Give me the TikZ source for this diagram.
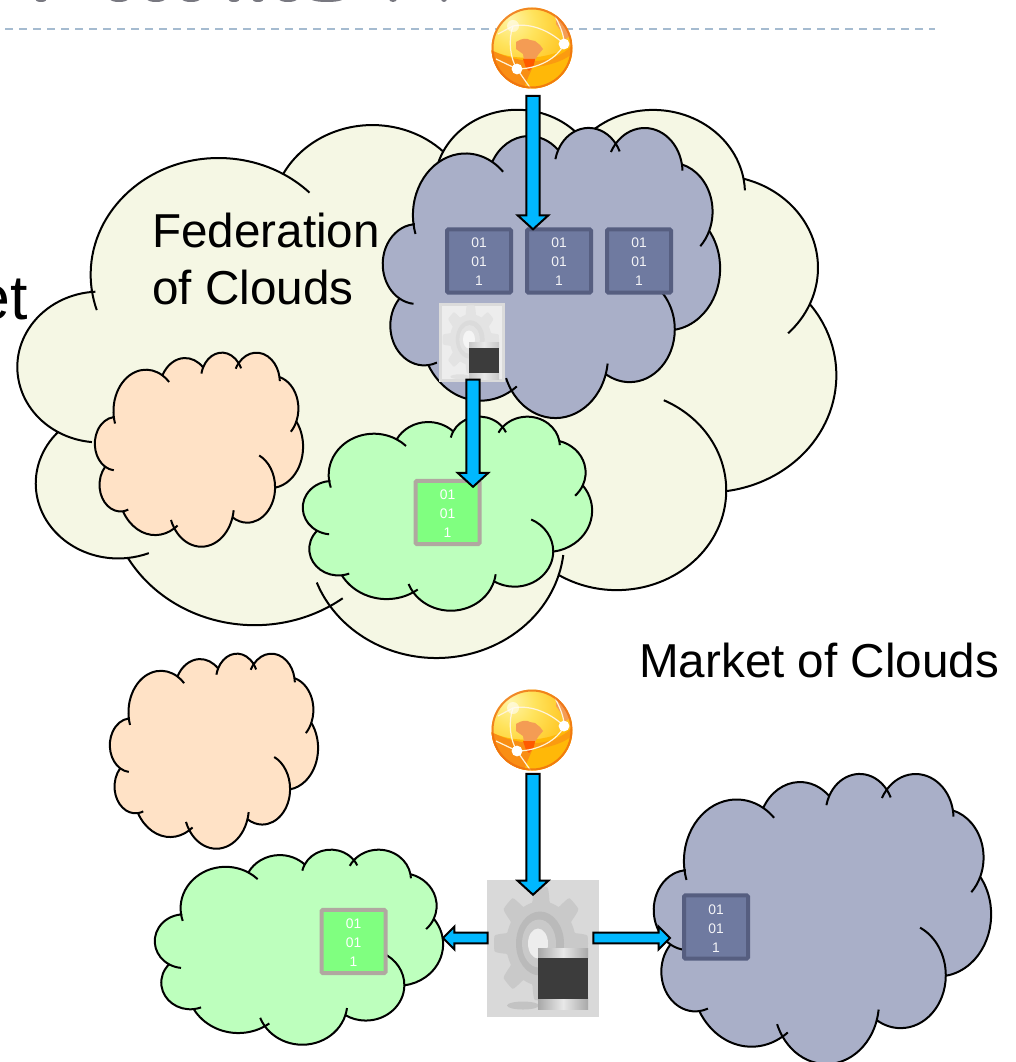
\documentclass[tikz,border=0pt]{standalone}
\usepackage{fontspec}
\setmainfont{Liberation Sans}
\usetikzlibrary{calc}
\definecolor{fedfill}{HTML}{F5F7E4}
\definecolor{bluefill}{HTML}{A9AFC8}
\definecolor{peachfill}{HTML}{FFE2C6}
\definecolor{greenfill}{HTML}{BDFFBD}
\definecolor{boxblue}{HTML}{6F7AA0}
\definecolor{boxblueline}{HTML}{565E80}
\definecolor{boxgreen}{HTML}{80FF80}
\definecolor{boxgreenline}{HTML}{B0A8A0}
\definecolor{arrowfill}{HTML}{00B8FF}
\definecolor{dashcol}{HTML}{A5BBD0}
\definecolor{globeband}{HTML}{F98E14}
\definecolor{globegold}{HTML}{FFB808}
\definecolor{globeland}{HTML}{F49C54}
\definecolor{globered}{HTML}{FF5A00}
\definecolor{globerim}{HTML}{EE6E10}
\definecolor{screendark}{HTML}{3C3C3C}
\pgfdeclareradialshading{globeshade}{\pgfpoint{-14bp}{18bp}}{%
  rgb(0bp)=(1,0.96,0.66);rgb(14bp)=(1,0.89,0.36);rgb(30bp)=(1,0.78,0.15);rgb(46bp)=(1,0.66,0.06);rgb(62bp)=(0.95,0.46,0.02);rgb(100bp)=(0.85,0.35,0.02)}
\newcommand\deflobe[5]{%
  \pgfmathsetmacro\tmpa{atan2(#2*sin(#4),#3*cos(#4))}%
  \pgfmathsetmacro\tmpb{atan2(#2*sin(#4+#5),#3*cos(#4+#5))}%
  \pgfmathsetmacro\tmpb{\tmpb<\tmpa ? \tmpb+360 : \tmpb}%
  \expandafter\xdef\csname LS#1\endcsname{\tmpa}%
  \expandafter\xdef\csname LE#1\endcsname{\tmpb}%
  \expandafter\xdef\csname LW#1\endcsname{#2}%
  \expandafter\xdef\csname LH#1\endcsname{#3}}
\deflobe{1}{6.753}{9.190}{-190.4875}{123.7805}
\deflobe{2}{5.333}{7.267}{-144.1024}{89.9452}
\deflobe{3}{4.365}{5.945}{-145.8079}{99.7230}
\deflobe{4}{4.857}{6.595}{-130.9861}{117.2417}
\deflobe{5}{5.333}{7.273}{-78.7089}{109.0269}
\deflobe{6}{6.775}{9.220}{-46.2673}{130.2690}
\deflobe{7}{5.785}{7.867}{0.6250}{114.0333}
\deflobe{8}{6.752}{9.215}{22.4516}{115.1726}
\deflobe{9}{7.720}{10.543}{66.2426}{75.7110}
\deflobe{10}{4.360}{5.918}{85.0579}{146.7356}
\deflobe{11}{4.345}{5.945}{113.1715}{152.5189}
\newcommand\LA[1]{arc[start angle=\csname LS#1\endcsname,end angle=\csname LE#1\endcsname,x radius=\csname LW#1\endcsname,y radius=\csname LH#1\endcsname] coordinate (J#1)}
\newcommand\HB[3]{\draw[cloudline] (J#2) arc[start angle=\csname LS#1\endcsname,delta angle=-#3,x radius=\csname LW#1\endcsname,y radius=\csname LH#1\endcsname];}
\newcommand\HF[2]{\draw[cloudline] (J#1) arc[start angle=\csname LE#1\endcsname,delta angle=#2,x radius=\csname LW#1\endcsname,y radius=\csname LH#1\endcsname];}
% fill, left, top, right, bottom in pixels
\newcommand\cloudshape[5]{%
  \pgfmathsetmacro\sx{(#4-#2)/43.2*0.75}%
  \pgfmathsetmacro\sy{(#5-#3)/43.2*0.75}%
  \begin{scope}[shift={(#2,#3)},x=\sx pt,y=-\sy pt]
    \filldraw[cloudline,fill=#1] (3.9,14.37) coordinate (J0) \LA{1} \LA{2} \LA{3} \LA{4} \LA{5} \LA{6} \LA{7} \LA{8} \LA{9} \LA{10} \LA{11} -- cycle;
    \HB{1}{0}{10}\HF{1}{15}\HB{3}{2}{14}\HF{3}{13}\HB{4}{3}{13}\HF{4}{8}\HF{5}{22}
    \HB{7}{6}{65}\HB{8}{7}{10}\HF{8}{13}\HB{9}{8}{6}\HB{10}{9}{15}\HB{11}{10}{25}\HF{11}{3}
  \end{scope}}
\newcommand\barrow[5]{%
  \coordinate (ba) at (#1);\coordinate (bb) at (#2);
  \coordinate (bh) at ($(bb)!#5!(ba)$);
  \draw[blockarrow] ($(ba)!#3!90:(bb)$) -- ($(bh)!#3!90:(bb)$) -- ($(bh)!#4!90:(bb)$) -- (bb)
    -- ($(bh)!#4!-90:(bb)$) -- ($(bh)!#3!-90:(bb)$) -- ($(ba)!#3!-90:(bb)$) -- cycle;}
\newcommand\globeicon[3]{%
  \node[globeball] (#1) at (#2,#3) {};
  \begin{scope}[shift={(#1.center)}]
    \clip (0,0) circle[radius=40.5];
    \fill[globegold] (-41,2) .. controls (-20,13) and (15,13) .. (41,-3) -- (41,41) -- (-41,41) -- cycle;
    \fill[globeband] (-41,2) .. controls (-25,10) and (-10,13) .. (3,13) .. controls (0,22) and (-5,30) .. (-8,41) -- (-41,41) -- cycle;
    \fill[globeband!70!globegold] (3,13) .. controls (15,13) and (30,8) .. (41,-3) -- (40,6) .. controls (30,14) and (15,18) .. (2,19) -- cycle;
    \fill[globeland] (-16,-6) .. controls (-10,-10) and (-5,-10) .. (-2,-8) -- (3,-7) -- (8,-3) -- (11,1) -- (6,7) -- (3,12) -- (-8,12) -- (-9,6) -- (-16,1) -- cycle;
    \fill[globered] (-9,11) -- (3,11) -- (2,17) -- (-3,23) -- (-6,20) -- cycle;
    \fill[globeland] (24,-33) .. controls (30,-28) and (36,-20) .. (38,-12) -- (32,-8) .. controls (31,-15) and (27,-20) .. (24,-24) -- cycle;
    \draw[white!85!globegold,line width=0.9pt] (-34,-14) -- (-19,-22) .. controls (-5,-25) and (15,-20) .. (32,-4);
    \draw[white!85!globegold,line width=0.9pt] (32,-4) .. controls (26,10) and (6,21) .. (-15,21);
    \draw[white!85!globegold,line width=0.9pt] (-15,21) .. controls (-22,10) and (-24,-8) .. (-19,-22);
    \draw[white!85!globegold,line width=0.9pt] (-15,21) -- (-1,41);
    \draw[white!85!globegold,line width=0.9pt] (-15,21) -- (-36,11);
    \draw[white!85!globegold,line width=0.9pt] (32,-4) .. controls (32,-14) and (28,-22) .. (23,-32);
    \fill[white,opacity=.55] (-19,-22) circle[radius=6];
    \fill[white] (32,-4) circle[radius=5.4] (-15,21) circle[radius=5.4];
    \draw[globerim,opacity=.8,line width=3pt] (0,0) circle[radius=40.5];
  \end{scope}}
% name, x, y, box style, gear colour, ring colour, hole colour, scale, band edge colour
\newcommand\gearicon[9]{%
  \node[#4] (#1) at (#2,#3) {};
  \begin{scope}[shift={(#1.center)},x=#8*0.75pt,y=-#8*0.75pt]
    \fill[#5] plot[domain=0:360,samples=241,variable=\t] ({-2+47*(.87+.13*min(1,max(-1,2.5*cos(8*\t))))*cos(\t)},{-5+57*(.87+.13*min(1,max(-1,2.5*cos(8*\t))))*sin(\t)}) -- cycle;
    \fill[#6] (-3,-5) ellipse[x radius=24,y radius=32];
    \fill[#5] (-4,-5) ellipse[x radius=17,y radius=24];
    \fill[#7] (-5,-5) ellipse[x radius=10,y radius=15];
    \fill[#6,opacity=.7] (-20,57) ellipse[x radius=16,y radius=4];
    \shade[left color=#9,right color=#9,middle color=black!9] (-5,0) rectangle (45,10);
    \shade[left color=#9,right color=#9,middle color=black!9] (-5,49) rectangle (45,61);
    \fill[screendark] (-5,9) rectangle (45,50);
  \end{scope}}
\newcommand\bits{\rule{0pt}{9pt}01\\01\\1}
\tikzset{
  cloudline/.style={draw=black,line width=1.5pt,line join=round},
  blockarrow/.style={draw=black,line width=1.5pt,fill=arrowfill,line join=miter},
  globeball/.style={circle,inner sep=0pt,minimum size=60.75pt,shading=globeshade},
  bitbox/.style={rectangle,rounded corners=1pt,inner sep=0pt,minimum width=48pt,minimum height=47.5pt,line width=3pt,align=center,text=white,font=\fontsize{10.4}{14.25}\selectfont},
  bluebit/.style={bitbox,draw=boxblueline,fill=boxblue,text=white!92!boxblue},
  greenbit/.style={bitbox,draw=boxgreenline,fill=boxgreen},
  bigtext/.style={font=\fontsize{35.7}{42.75}\selectfont,inner sep=0pt,align=left,text=black},
  smallgearbox/.style={rectangle,inner sep=0pt,minimum width=47pt,minimum height=56.5pt,draw=black!14,line width=2.2pt,fill=black!7},
  biggearbox/.style={rectangle,inner sep=0pt,minimum width=84pt,minimum height=102.75pt,fill=black!15},
}
\begin{document}
\begin{tikzpicture}[x=0.75pt,y=-0.75pt]
\useasboundingbox (0,0) rectangle (1015,1062);
\clip (0,0) rectangle (1015,1062);
\fill[white] (0,0) rectangle (1015,1062);
% cropped title slivers
\foreach \cx/\rx in {41/6,119/9,156/9,191/9,234/6,258/6,288/9,327/16,393/4,444/3}
  \fill[color={rgb,255:red,120;green,120;blue,128}] (\cx,-1) ellipse[x radius=\rx,y radius=3];
\coordinate (dashL) at (5,29);
\coordinate (dashR) at (935,29);
\draw[dashcol,line width=1.6pt,dash pattern=on 6pt off 4.5pt] (dashL) -- (dashR);
% clouds
\cloudshape{fedfill}{18}{108}{836}{656}
\cloudshape{bluefill}{383}{127}{720}{417}
\cloudshape{greenfill}{303}{416}{592}{610}
\cloudshape{peachfill}{95}{352}{303}{546}
\cloudshape{peachfill}{110}{653}{318}{848}
\cloudshape{greenfill}{155}{849}{443}{1044}
\cloudshape{bluefill}{654}{773}{991}{1063}
% text
\node[bigtext,anchor=base west] (fedA) at (152,248) {Federation};
\node[bigtext,anchor=base west] (fedB) at (152,305) {of Clouds};
\node[bigtext,anchor=base west] (market) at (639,677) {Market of Clouds};
\node[font=\fontsize{47}{50}\selectfont,inner sep=0pt,anchor=base east] (etfrag) at (28,320) {et};
% bit boxes
\node[bluebit] (bitA) at (479,261) {\bits};
\node[bluebit] (bitB) at (559,261) {\bits};
\node[bluebit] (bitC) at (639,261) {\bits};
\node[greenbit] (bitG) at (447.5,512.5) {\bits};
\node[greenbit] (bitH) at (353.5,941.5) {\bits};
\node[bluebit] (bitD) at (716,927) {\bits};
% icons
\globeicon{globeA}{532}{48}
\globeicon{globeB}{532}{730}
\gearicon{gearA}{472}{342.5}{smallgearbox}{black!11}{black!14}{black!4}{0.6}{black!22}
\gearicon{gearB}{543}{948.5}{biggearbox}{black!21}{black!27}{black!7}{1}{black!34}
\coordinate (toGreenB) at (443,938);
\coordinate (toBlueB) at (670,938);
% arrows
\barrow{$(globeA.south)+(1,7)$}{$(bitB.north)+(-26,2)$}{5pt}{11.5pt}{10.5pt}
\barrow{$(gearA.south)+(1,-2)$}{$(bitG.north)+(25.5,8)$}{5pt}{11.5pt}{10.5pt}
\barrow{$(globeB.south)+(1,3)$}{$(gearB.north)+(-10,15)$}{5pt}{11.5pt}{10.5pt}
\barrow{$(gearB.west)+(1,-10.5)$}{toGreenB}{4.1pt}{8.6pt}{8.6pt}
\barrow{$(gearB.east)+(-6,-10.5)$}{toBlueB}{4.1pt}{8.6pt}{8.6pt}
\end{tikzpicture}
\end{document}
